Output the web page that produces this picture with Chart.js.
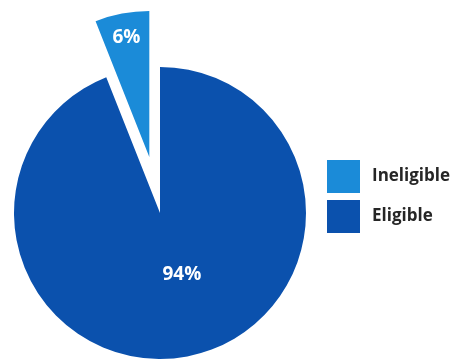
<!DOCTYPE html>
<html>
<head>
<meta charset="utf-8">
<script src="https://cdn.jsdelivr.net/npm/chart.js@4.4.0/dist/chart.umd.min.js"></script>
<style>
  html, body { margin: 0; padding: 0; background: #ffffff; }
  canvas { display: block; }
</style>
</head>
<body>
<canvas id="c" width="451" height="360"></canvas>
<script>
// Eligibility split
const categories = ['Ineligible', 'Eligible'];
const shares = [6, 94];
const valueLabels = ['6%', '94%'];
const sliceColors = ['#1b8bd8', '#0b51ad'];

const total = shares.reduce((a, b) => a + b, 0);

// Pulls selected slices out along their bisector
const explodePlugin = {
  id: 'explode',
  afterDatasetsUpdate(chart, args, opts) {
    const meta = chart.getDatasetMeta(0);
    meta.data.forEach((arc, i) => {
      const d = (opts.distance || [])[i] || 0;
      if (!d) return;
      const mid = (arc.startAngle + arc.endAngle) / 2;
      arc.x += Math.cos(mid) * d;
      arc.y += Math.sin(mid) * d;
    });
  }
};

// Percentage text inside each slice
const sliceLabelPlugin = {
  id: 'sliceLabels',
  afterDatasetsDraw(chart, args, opts) {
    const { ctx } = chart;
    const meta = chart.getDatasetMeta(0);
    ctx.save();
    ctx.fillStyle = opts.color;
    ctx.font = opts.font;
    ctx.textAlign = 'center';
    ctx.textBaseline = 'middle';
    meta.data.forEach((arc, i) => {
      const mid = (arc.startAngle + arc.endAngle) / 2 + (opts.angleShift[i] || 0) * Math.PI / 180;
      const r = arc.outerRadius * opts.radiusFraction[i];
      ctx.fillText(valueLabels[i], arc.x + Math.cos(mid) * r, arc.y + Math.sin(mid) * r);
    });
    ctx.restore();
  }
};

// Square-swatch legend at the right
const sideLegendPlugin = {
  id: 'sideLegend',
  afterDraw(chart, args, opts) {
    const { ctx } = chart;
    const ds = chart.data.datasets[0];
    ctx.save();
    ctx.font = opts.font;
    ctx.textBaseline = 'middle';
    ctx.textAlign = 'left';
    chart.data.labels.forEach((label, i) => {
      const y = opts.top + i * (opts.box + opts.gap);
      ctx.fillStyle = ds.backgroundColor[i];
      ctx.fillRect(opts.left, y, opts.box, opts.box);
      ctx.fillStyle = opts.color;
      ctx.fillText(label, opts.left + opts.box + opts.textGap, y + opts.box / 2);
    });
    ctx.restore();
  }
};

new Chart(document.getElementById('c'), {
  type: 'pie',
  data: {
    labels: categories,
    datasets: [{
      data: shares,
      backgroundColor: sliceColors,
      borderWidth: 0,
      hoverOffset: 0
    }]
  },
  options: {
    responsive: false,
    animation: false,
    rotation: -shares[0] / total * 360,
    radius: 146,
    layout: { padding: { left: 0, right: 131, top: 66, bottom: 0 } },
    events: [],
    plugins: {
      legend: { display: false },
      tooltip: { enabled: false },
      explode: { distance: [57, 0] },
      sliceLabels: {
        color: '#ffffff',
        font: 'bold 19px "Open Sans", sans-serif',
        radiusFraction: [0.835, 0.45],
        angleShift: [0, -8.7]
      },
      sideLegend: {
        left: 327, top: 160, box: 33, gap: 7, textGap: 12,
        color: '#262626',
        font: 'bold 17px "Open Sans", sans-serif'
      }
    }
  },
  plugins: [explodePlugin, sliceLabelPlugin, sideLegendPlugin]
});
</script>
</body>
</html>
